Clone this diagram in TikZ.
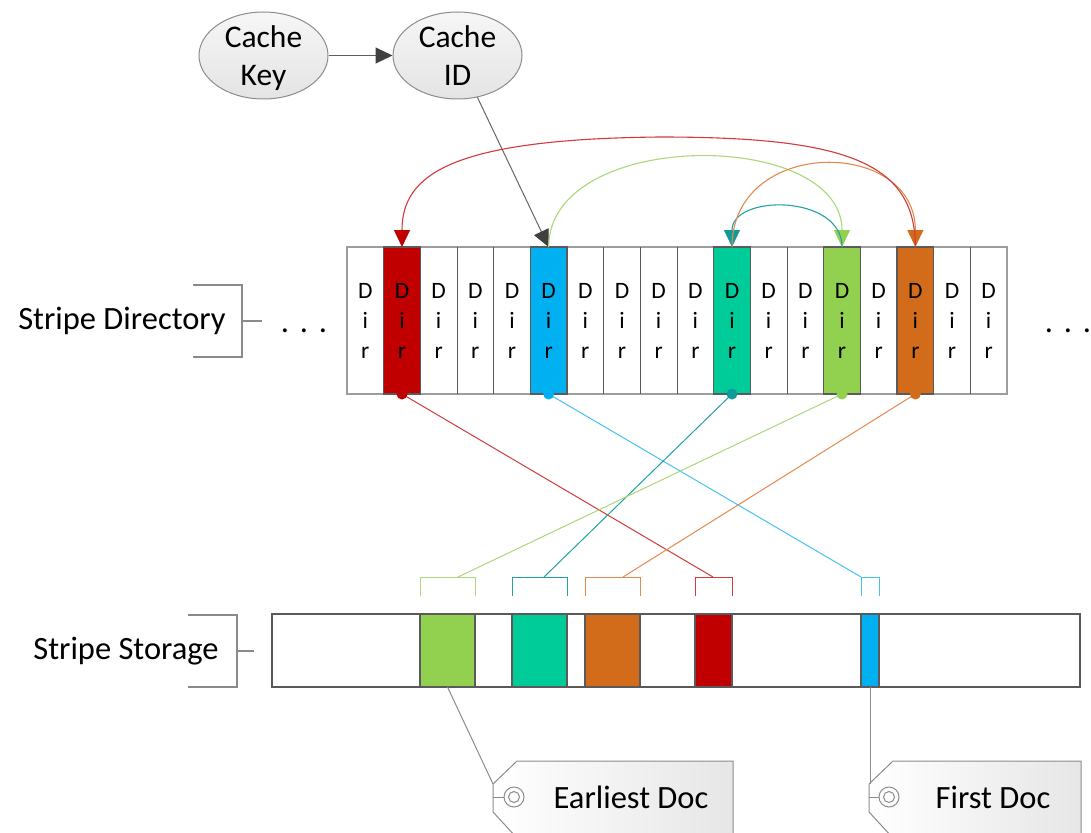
\documentclass[tikz,border=0pt]{standalone}
\usepackage{fontspec}
\setmainfont{Carlito}
\usetikzlibrary{arrows.meta,shapes.geometric}

% cell and block fills
\definecolor{dred}{HTML}{C00000}
\definecolor{dblue}{HTML}{00B0F0}
\definecolor{dteal}{HTML}{00CC99}
\definecolor{dgreen}{HTML}{92D050}
\definecolor{dorange}{HTML}{D26C1A}
% connector colours
\definecolor{lred}{HTML}{D33A3A}
\definecolor{lblue}{HTML}{45C3F2}
\definecolor{lteal}{HTML}{22A3A3}
\definecolor{lgreen}{HTML}{A9D97A}
\definecolor{lorange}{HTML}{E38A4F}
\definecolor{tealtip}{HTML}{109A9A}
% greys
\definecolor{edge}{HTML}{8C8C8C}
\definecolor{sep}{HTML}{5A5A5A}
\definecolor{ink}{HTML}{404040}
\definecolor{bracketgray}{HTML}{8A8A8A}
\definecolor{ovaltop}{HTML}{F6F6F6}
\definecolor{ovalfill}{HTML}{E4E4E4}
\definecolor{tagfill}{HTML}{E6E6E6}

\begin{document}
\begin{tikzpicture}[x=1pt,y=-1pt,
  lbl/.style={font=\fontsize{32.5}{38}\selectfont, align=center, inner sep=0pt, text=black},
  oval/.style={ellipse, draw=edge, line width=1pt, minimum width=129pt, minimum height=87pt,
    inner sep=0pt, top color=ovaltop, bottom color=ovalfill, text depth=0pt,
    font=\fontsize{31.5}{38}\selectfont, align=center},
  dircell/.style={minimum width=36.667pt, minimum height=147pt, inner sep=0pt, outer sep=0pt,
    font=\fontsize{23.5}{30}\selectfont, align=center},
  outerline/.style={draw=edge!85, line width=1.6pt},
  sepline/.style={draw=sep, line width=0.9pt},
  hotcell/.style={draw=sep, line width=1.1pt},
  block/.style={draw=sep, line width=1.3pt, minimum height=73pt, inner sep=0pt, outer sep=0pt},
  bracketline/.style={draw=bracketgray, line width=1.1pt},
  link/.style={line width=1pt},
  hop/.style={line width=1.1pt},
  tagline/.style={draw=edge, line width=1pt},
  tip/.style={-{Triangle[length=17pt,width=16pt,color=#1]}},
]
\useasboundingbox (0,0) rectangle (1091,832);
\clip (0,0) rectangle (1091,832);
\fill[white] (0,0) rectangle (1091,832);

% ---------- lookup: key -> id ----------
\node[oval] (ckey) at (263.5,55.5) {Cache\\Key};
\node[oval] (cid)  at (457.5,55.5) {Cache\\ID};
\draw[draw=ink!85, line width=1pt, -{Triangle[length=17pt,width=16pt,color=ink]}] (ckey) -- (cid);

% ---------- stripe directory ----------
\foreach \i/\c in {0/white,1/dred,2/white,3/white,4/white,5/dblue,6/white,7/white,8/white,
                   9/white,10/dteal,11/white,12/white,13/dgreen,14/white,15/dorange,16/white,17/white}
  \node[dircell, fill=\c] (c\i) at ({347+36.667*(\i+0.5)},320.5) {D\\i\\r};
\draw[outerline] (c0.north west) rectangle (c17.south east);
\foreach \i in {1,...,17}
  \draw[sepline] (c\i.north west) -- (c\i.south west);
\foreach \i in {1,5,10,13,15}
  \draw[hotcell] (c\i.north west) rectangle (c\i.south east);

\node[lbl] (dotsL) at (304,331) {.\,\,.\,\,.};
\node[lbl] (dotsR) at (1068,331) {.\,\,.\,\,.};

% directory bracket and caption
\node[lbl] (dirlabel) at (122,321) {Stripe Directory};
\draw[bracketline] (193,285) -- (242,285) -- (242,357) -- (193,357);
\draw[bracketline] (242,321) -- (262,321);

% ---------- hash chain over the directory ----------
\draw[draw=ink!80, line width=1pt, -{Triangle[length=17pt,width=16pt,color=ink]}] (cid) -- (c5.north);
\draw[lgreen, hop, tip=dgreen] (c5.north) .. controls (548.7,128) and (842,128) .. (c13.north);
\draw[lteal, hop, tip=tealtip] (c13.north) .. controls (842,194) and (732,194) .. (c10.north);
\draw[lorange, hop, tip=dorange] (c10.north) .. controls (732,137) and (915.3,137) .. (c15.north);
\draw[lred, hop, tip=dred] (c15.north) .. controls (915.3,162) and (845,137) .. (660,137)
      .. controls (450,139) and (402,175) .. (c1.north);

% ---------- stripe storage ----------
\node[draw=sep, line width=2.6pt, minimum width=808pt, minimum height=73pt, inner sep=0pt]
  (store) at (676,650.5) {};
\node[block, fill=dgreen,  minimum width=55pt] (sgreen)  at (447.5,650.5) {};
\node[block, fill=dteal,   minimum width=55pt] (steal)   at (539.5,650.5) {};
\node[block, fill=dorange, minimum width=55pt] (sorange) at (612.5,650.5) {};
\node[block, fill=dred,    minimum width=37pt] (sred)    at (713.5,650.5) {};
\node[block, fill=dblue,   minimum width=18pt] (sblue)   at (870,650.5) {};

\node[lbl] (storelabel) at (126,651) {Stripe Storage};
\draw[bracketline] (188,615) -- (237,615) -- (237,687) -- (188,687);
\draw[bracketline] (237,651) -- (254,651);

% brackets marking each document's extent
\draw[lgreen,  link] (420,596) -- (420,577) -- (475,577) -- (475,596);
\draw[lteal,   link] (512,596) -- (512,577) -- (567,577) -- (567,596);
\draw[lorange, link] (585,596) -- (585,577) -- (640,577) -- (640,596);
\draw[lred,    link] (695,596) -- (695,577) -- (732,577) -- (732,596);
\draw[lblue,   link] (861,596) -- (861,577) -- (879,577) -- (879,596);
\coordinate (bkgreen)  at (458,577);
\coordinate (bkteal)   at (544,577);
\coordinate (bkorange) at (623,577);
\coordinate (bkred)    at (713,577);
\coordinate (bkblue)   at (861,577);

% directory entries point at their documents
\draw[lred,    link] (c1.south)  -- (bkred);
\draw[lblue,   link] (c5.south)  -- (bkblue);
\draw[lteal,   link] (c10.south) -- (bkteal);
\draw[lgreen,  link] (c13.south) -- (bkgreen);
\draw[lorange, link] (c15.south) -- (bkorange);
\fill[dred]    (c1.south)  circle (5.5);
\fill[dblue]   (c5.south)  circle (5.5);
\fill[tealtip] (c10.south) circle (5.5);
\fill[dgreen]  (c13.south) circle (5.5);
\fill[dorange] (c15.south) circle (5.5);

% ---------- tags ----------
\shadedraw[tagline, left color=white, right color=tagfill]
  (517,761) -- (733,761) -- (733,838) -- (517,838) -- (493,812) -- (493,784) -- cycle;
\draw[tagline] (514,797) circle (10);
\draw[tagline] (514,797) circle (5.5);
\draw[tagline] (493,797) -- (504,797);
\node[lbl] (earliest) at (631,797) {Earliest Doc};
\coordinate (tipA) at (493,784);
\draw[tagline] (sgreen.south) -- (tipA);

\shadedraw[tagline, left color=white, right color=tagfill]
  (893,761) -- (1081,761) -- (1081,838) -- (893,838) -- (869,812) -- (869,784) -- cycle;
\draw[tagline] (889,797) circle (10);
\draw[tagline] (889,797) circle (5.5);
\draw[tagline] (869,797) -- (879,797);
\node[lbl] (first) at (993,797) {First Doc};
\coordinate (tipB) at (870,784);
\draw[tagline] (sblue.south) -- (tipB);
\end{tikzpicture}
\end{document}
